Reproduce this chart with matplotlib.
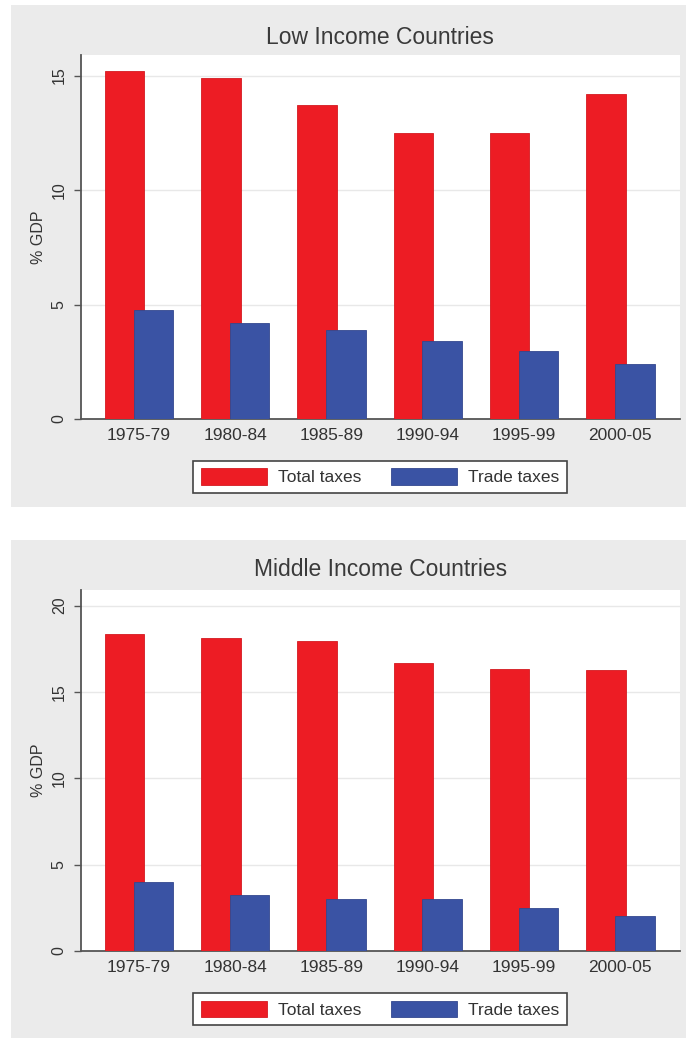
import numpy as np
import matplotlib
matplotlib.use('Agg')
import matplotlib.pyplot as plt
from matplotlib.patches import Rectangle

plt.rcParams['font.family'] = ['Liberation Sans', 'DejaVu Sans']

# data (% of GDP)
periods = ['1975-79', '1980-84', '1985-89', '1990-94', '1995-99', '2000-05']
low_total = [15.2, 14.9, 13.7, 12.5, 12.5, 14.2]
low_trade = [4.75, 4.2, 3.9, 3.4, 2.95, 2.4]
mid_total = [18.35, 18.1, 17.95, 16.7, 16.35, 16.25]
mid_trade = [4.0, 3.25, 3.0, 3.0, 2.5, 2.0]

red = '#ED1C24'
blue = '#3A53A4'
panel_gray = '#EBEBEB'

fig = plt.figure(figsize=(6.86, 10.4), dpi=100)

# gray panel backgrounds (figure coords)
fig.patches.append(Rectangle((0.016, 0.5125), 1.0, 0.4827, transform=fig.transFigure,
                             facecolor=panel_gray, edgecolor='none', zorder=-10))
fig.patches.append(Rectangle((0.016, 0.002), 1.0, 0.4788, transform=fig.transFigure,
                             facecolor=panel_gray, edgecolor='none', zorder=-10))

panels = [
    ('Low Income Countries', low_total, low_trade, [0.1176, 0.5971, 0.8737, 0.35], 15.9, [0, 5, 10, 15], 0.9644, 0.5654),
    ('Middle Income Countries', mid_total, mid_trade, [0.1176, 0.0856, 0.8737, 0.3471], 20.9, [0, 5, 10, 15, 20], 0.452, 0.0538),
]

x = np.arange(len(periods))
w = 0.41

for title, total, trade, rect, ytop, yt, title_y, leg_y in panels:
    ax = fig.add_axes(rect)
    ax.set_facecolor('white')
    ax.bar(x - 0.15, total, w, color=red, edgecolor='#D41A20', linewidth=0.6, label='Total taxes', zorder=3)
    ax.bar(x + 0.15, trade, w, color=blue, edgecolor='#33488F', linewidth=0.6, label='Trade taxes', zorder=4)

    ax.set_xlim(-0.605, 5.62)
    ax.set_ylim(0, ytop)
    ax.set_yticks(yt)
    ax.set_xticks(x)
    ax.set_xticklabels(periods)
    ax.yaxis.grid(True, color='#E8E8E8', linewidth=1.0, zorder=0)
    ax.set_axisbelow(True)

    for s in ['top', 'right']:
        ax.spines[s].set_visible(False)
    for s in ['left', 'bottom']:
        ax.spines[s].set_color('#555555')
        ax.spines[s].set_linewidth(1.3)

    ax.tick_params(axis='x', length=0, pad=6.5, labelsize=12.5, labelcolor='#333333')
    ax.tick_params(axis='y', length=5, width=1.0, color='#555555', pad=5,
                   labelsize=11.5, labelcolor='#333333', labelrotation=90)
    for lab in ax.get_yticklabels():
        lab.set_verticalalignment('center')
    ax.set_ylabel('% GDP', fontsize=11.5, color='#333333', labelpad=4)

    fig.text(0.1176 + 0.8737 / 2, title_y, title, ha='center', va='center',
             fontsize=16.5, color='#3A3A3A')

    leg = ax.legend(loc='upper center', bbox_to_anchor=(0.1176 + 0.8737 / 2, leg_y),
                    bbox_transform=fig.transFigure, ncol=2, fontsize=12.5,
                    handlelength=3.8, handleheight=1.05, handletextpad=0.65,
                    columnspacing=1.7, borderpad=0.45, fancybox=False,
                    framealpha=1, edgecolor='#444444', facecolor='white')
    leg.get_frame().set_linewidth(1.2)
    for t in leg.get_texts():
        t.set_color('#333333')

fig.savefig('out.png', dpi=100)
